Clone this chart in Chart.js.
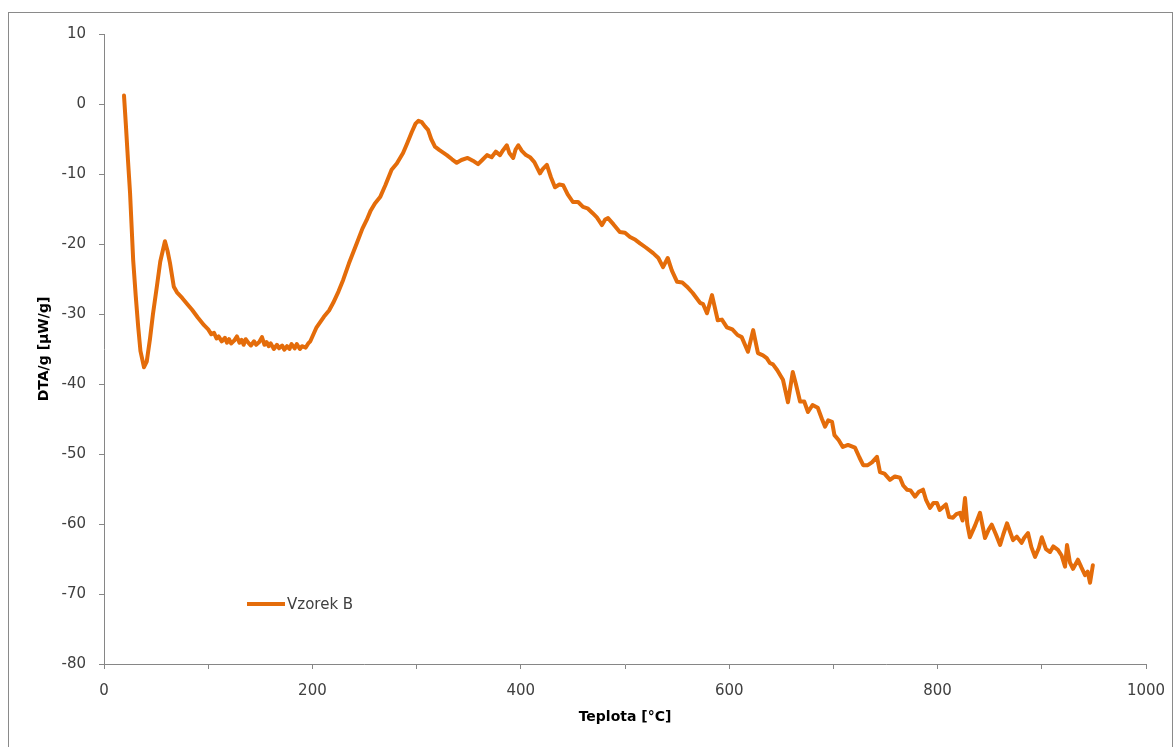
<!DOCTYPE html>
<html lang="cs">
<head>
<meta charset="utf-8">
<title>DTA – Vzorek B</title>
<script src="https://cdn.jsdelivr.net/npm/chart.js@4.4.1/dist/chart.umd.min.js"></script>
<style>
  html, body { margin: 0; padding: 0; background: #fff; overflow: hidden; }
  #wrap { position: relative; width: 1173px; height: 747px; }
  #frame {
    position: absolute; left: 8px; top: 12px; width: 1163px; height: 760px;
    border: 1px solid #8a8a8a; pointer-events: none;
  }
  canvas { position: absolute; left: 0; top: 0; }
</style>
</head>
<body>
<div id="wrap">
  <canvas id="dtaChart" width="1173" height="747"></canvas>
  <div id="frame"></div>
</div>
<script>
// Teplota [°C] a odpovídající signál DTA/g [µW/g]
const teplota = [
  19.2, 21, 23, 25, 28, 30.5, 32.8, 35, 38.4, 41, 44, 47, 50.7, 54, 58.5, 61, 63.3, 67, 70, 75,
  80, 84.5, 90, 96, 100, 103, 105.6, 108, 110, 113, 116, 118, 120, 122, 125, 127.6, 130, 132, 134, 136,
  139, 141, 144, 146, 149, 151.6, 154, 156, 158, 160, 163, 166, 168, 171, 173, 175.6, 178, 180, 183, 185,
  188, 190, 193.6, 196, 198, 204, 211, 216, 220, 225, 229.6, 235, 242.6, 248, 252, 256, 260, 265,
  270, 276, 281, 287, 291, 295.4, 299, 301.7, 305, 308, 311, 314, 317.6, 322, 329, 334, 338.5, 343, 349, 354,
  359, 363, 367.6, 372, 376, 380, 383, 386.6, 389, 392.7, 395, 397.6, 401, 405, 408.8, 413, 418.4, 421, 425, 429,
  432.8, 437, 440.6, 445, 450, 455, 459.7, 464, 469, 473, 477.9, 481, 483.7, 489, 495, 500, 504.8, 510, 514.4, 520,
  527, 532, 536.5, 541, 545, 550, 555, 559.5, 565, 572, 575, 578.7, 583.5, 589, 593, 597.8, 603, 608, 612, 618,
  623, 627.6, 632.4, 636, 639, 642, 646, 651.6, 656.4, 661, 664, 668, 672, 675.6, 680, 685, 689, 692, 695, 698.7,
  701, 705, 709, 714, 720.7, 725, 728.6, 733, 737, 741.8, 744.7, 749, 754.3, 759, 763.9, 767, 770.6, 774, 778.3, 782,
  786, 789, 792.7, 796, 799.4, 802, 805, 808, 811, 814.8, 818, 821.5, 824, 826.3, 828.5, 831, 836, 840.7, 845.5, 849,
  852, 856, 860, 863, 866.6, 872.4, 876, 880.6, 883, 886.8, 890, 893.5, 897, 900, 904, 907.9, 911, 915.5, 919, 922.3,
  924.2, 927, 930, 934.7, 938, 941.5, 944, 946.3, 949
];
const vzorekB = [
  1.2, -3, -8, -12.7, -22.3, -27.5, -31.8, -35.3, -37.6, -36.8, -33.7, -30, -26.1, -22.5, -19.6, -21, -22.7, -26.1, -26.9, -27.7,
  -28.6, -29.4, -30.5, -31.6, -32.2, -32.9, -32.7, -33.5, -33.2, -33.9, -33.4, -34.1, -33.6, -34.2, -33.8, -33.2, -34.1, -33.7, -34.4, -33.6,
  -34.2, -34.5, -33.9, -34.4, -34.0, -33.3, -34.4, -34.0, -34.6, -34.2, -35.0, -34.4, -34.9, -34.5, -35.1, -34.6, -35.0, -34.3, -34.9, -34.3,
  -35.0, -34.6, -34.8, -34.2, -33.9, -31.9, -30.4, -29.5, -28.4, -26.8, -25.1, -22.8, -19.9, -17.8, -16.6, -15.2, -14.2, -13.3,
  -11.6, -9.4, -8.5, -7, -5.6, -4, -2.8, -2.4, -2.6, -3.2, -3.7, -5.0, -6.1, -6.6, -7.3, -7.9, -8.4, -8.0, -7.7, -8.1,
  -8.6, -8.0, -7.3, -7.6, -6.8, -7.3, -6.6, -5.9, -7.0, -7.7, -6.5, -5.9, -6.7, -7.3, -7.6, -8.3, -9.9, -9.3, -8.7, -10.5,
  -11.9, -11.5, -11.6, -12.9, -14, -14.0, -14.7, -14.9, -15.6, -16.2, -17.3, -16.5, -16.3, -17.2, -18.3, -18.4, -19, -19.4, -19.9, -20.5,
  -21.3, -22.0, -23.3, -22, -23.8, -25.4, -25.5, -26.1, -27.0, -28.4, -28.6, -29.9, -27.3, -30.9, -30.8, -31.9, -32.2, -33.0, -33.3, -35.4,
  -32.3, -35.6, -35.9, -36.3, -37, -37.2, -38.0, -39.4, -42.6, -38.3, -40, -42.5, -42.5, -44, -43.0, -43.4, -45, -46.1, -45.2, -45.4,
  -47.3, -48, -49, -48.7, -49.1, -50.5, -51.6, -51.6, -51.2, -50.4, -52.6, -52.8, -53.7, -53.2, -53.4, -54.5, -55.1, -55.2, -56.1, -55.4,
  -55.1, -56.6, -57.7, -57, -57, -58.0, -57.6, -57.2, -59.0, -59.1, -58.6, -58.4, -59.5, -56.3, -60, -61.9, -60.2, -58.4, -62, -60.8,
  -60.1, -61.5, -63, -61.5, -59.9, -62.3, -61.8, -62.7, -62, -61.3, -63.3, -64.7, -63.5, -61.9, -63.6, -64, -63.2, -63.7, -64.5, -66.1,
  -63, -65.5, -66.4, -65.1, -66.2, -67.3, -66.8, -68.4, -65.9
];

// osy
const xTicks = [0, 200, 400, 600, 800, 1000];
const yTicks = [10, 0, -10, -20, -30, -40, -50, -60, -70, -80];

const seriesName = 'Vzorek B';
const lineColor = '#E46C0A';
const axisColor = '#868686';
const fontFamily = '"DejaVu Sans", sans-serif';

// legenda uvnitř grafu (vlevo dole)
const innerLegend = {
  id: 'innerLegend',
  afterDatasetsDraw(chart) {
    const { ctx, chartArea } = chart;
    const x0 = chartArea.left + 143;
    const y0 = chartArea.bottom - 60;
    ctx.save();
    ctx.strokeStyle = lineColor;
    ctx.lineWidth = 4;
    ctx.beginPath();
    ctx.moveTo(x0, y0);
    ctx.lineTo(x0 + 38, y0);
    ctx.stroke();
    ctx.fillStyle = '#404040';
    ctx.font = '15px ' + fontFamily;
    ctx.textBaseline = 'middle';
    ctx.fillText(seriesName, x0 + 40, y0 + 1);
    ctx.restore();
  }
};

const ctx = document.getElementById('dtaChart').getContext('2d');
new Chart(ctx, {
  type: 'line',
  data: {
    datasets: [{
      label: seriesName,
      data: teplota.map((t, i) => ({ x: t, y: vzorekB[i] })),
      borderColor: lineColor,
      backgroundColor: lineColor,
      borderWidth: 4,
      pointRadius: 0,
      tension: 0,
      borderJoinStyle: 'round',
      borderCapStyle: 'round'
    }]
  },
  options: {
    responsive: false,
    animation: false,
    devicePixelRatio: 1,
    layout: { padding: { left: 0, top: 34, right: 27, bottom: 0 } },
    plugins: {
      legend: { display: false },
      tooltip: { enabled: false }
    },
    scales: {
      x: {
        type: 'linear',
        min: xTicks[0],
        max: xTicks[xTicks.length - 1],
        afterFit: (scale) => {
          scale.height = 83;
          // popisek "1000" smí přesahovat okraj plochy grafu
          scale.paddingLeft = 0;
          scale.paddingRight = 0;
        },
        afterBuildTicks: (scale) => {
          // hlavní značky po 200, vedlejší po 100 bez popisku
          const t = [];
          for (let v = scale.min; v <= scale.max; v += 100) t.push({ value: v });
          scale.ticks = t;
        },
        ticks: {
          padding: 13,
          color: '#404040',
          font: { family: fontFamily, size: 15 },
          maxRotation: 0,
          autoSkip: false,
          callback: (v) => (xTicks.includes(v) ? String(v) : '')
        },
        grid: { drawOnChartArea: false, drawTicks: true, tickLength: 5, color: axisColor },
        border: { display: true, color: axisColor, width: 1 },
        title: {
          display: true,
          text: 'Teplota [°C]',
          color: '#000',
          font: { family: fontFamily, size: 14, weight: 'bold' },
          padding: { top: 0, bottom: 21 }
        }
      },
      y: {
        type: 'linear',
        min: yTicks[yTicks.length - 1],
        max: yTicks[0],
        afterFit: (scale) => {
          scale.width = 104;
          scale.paddingTop = 0;
          scale.paddingBottom = 0;
        },
        afterBuildTicks: (scale) => {
          scale.ticks = yTicks.map((v) => ({ value: v }));
        },
        ticks: {
          padding: 13,
          color: '#404040',
          font: { family: fontFamily, size: 15 }
        },
        grid: { drawOnChartArea: false, drawTicks: true, tickLength: 5, color: axisColor },
        border: { display: true, color: axisColor, width: 1 },
        title: {
          display: true,
          text: 'DTA/g [µW/g]',
          color: '#000',
          font: { family: fontFamily, size: 14, weight: 'bold' },
          padding: { top: 36, bottom: 0 }
        }
      }
    }
  },
  plugins: [innerLegend]
});
</script>
</body>
</html>
